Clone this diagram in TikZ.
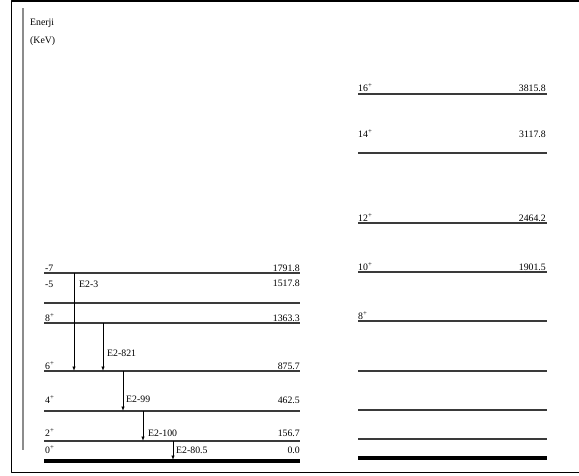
\documentclass[tikz,border=0pt]{standalone}
\usepackage{fontspec}
\setmainfont{Liberation Serif}
\usetikzlibrary{arrows.meta}
\definecolor{lvlgray}{HTML}{3A3A3A}
\definecolor{axgray}{HTML}{8C8C8C}
\tikzset{
  every picture/.style={font=\fontsize{9.8}{10}\selectfont, line join=round, >=Stealth},
  lvl/.style={line width=1.2pt, lvlgray},
  ground/.style={line width=4.5pt, black},
  trans/.style={line width=0.8pt, -{Latex[length=4.5pt,width=3.5pt]}},
  lab/.style={inner sep=0pt, anchor=base west},
  en/.style={inner sep=0pt, anchor=base east},
}
\newcommand{\spin}[1]{#1\textsuperscript{+}}
\begin{document}
\begin{tikzpicture}[x=1pt,y=-1pt]
\useasboundingbox (0,0) rectangle (579,475);
% frame and energy axis
\draw[line width=1.6pt] (581,1) -- (11.5,1) -- (11.5,472.5) -- (581,472.5);
\draw[line width=2pt,axgray] (23,8) -- (23,450);
\node[lab] (enerji) at (30,25){Enerji};
\node[lab] (kev) at (30,43){(KeV)};

% left band
\foreach \y in {273,303,323,371,411,441}{\draw[lvl] (44,\y) -- (300,\y);}
\draw[ground] (44,461) -- (300,461);
\node[lab] (s7) at (45,271){-7};      \node[en] (e7) at (300,271){1791.8};
\node[lab] (s5) at (45,287){-5};      \node[en] (e5) at (300,286){1517.8};
\node[lab] (s8) at (45,321){\spin8};   \node[en] (e8) at (300,321){1363.3};
\node[lab] (s6) at (45,369){\spin6};   \node[en] (e6) at (300,369){875.7};
\node[lab] (s4) at (45,403){\spin4};   \node[en] (e4) at (300,403){462.5};
\node[lab] (s2) at (45,436){\spin2};   \node[en] (e2) at (300,436){156.7};
\node[lab] (s0) at (45,453){\spin0};   \node[en] (e0) at (300,453){0.0};

% transitions
\coordinate (t3a) at (74,273);   \coordinate (t3b) at (74,371);
\coordinate (t821a) at (103,323); \coordinate (t821b) at (103,371);
\coordinate (t99a) at (123,371);  \coordinate (t99b) at (123,411);
\coordinate (t100a) at (143,411); \coordinate (t100b) at (143,441);
\coordinate (t80a) at (173,441);  \coordinate (t80b) at (173,460);
\draw[trans] (t3a) -- (t3b);
\draw[trans] (t821a) -- (t821b);
\draw[trans] (t99a) -- (t99b);
\draw[trans] (t100a) -- (t100b);
\draw[trans] (t80a) -- (t80b);
\node[lab] (l3) at (79,287){E2-3};
\node[lab] (l821) at (107,356){E2-821};
\node[lab] (l99) at (126,402){E2-99};
\node[lab] (l100) at (148,436){E2-100};
\node[lab] (l80) at (176,453){E2-80.5};

% right band
\foreach \y in {94,153,223,272,321,371,410,439}{\draw[lvl] (358,\y) -- (547,\y);}
\draw[ground] (358,458) -- (547,458);
\node[lab] (r16) at (358,91){\spin{16}};  \node[en] (q16) at (546,91){3815.8};
\node[lab] (r14) at (358,137){\spin{14}}; \node[en] (q14) at (546,137){3117.8};
\node[lab] (r12) at (358,221){\spin{12}}; \node[en] (q12) at (546,221){2464.2};
\node[lab] (r10) at (358,270){\spin{10}}; \node[en] (q10) at (546,270){1901.5};
\node[lab] (r8) at (358,319){\spin8};
\end{tikzpicture}
\end{document}
